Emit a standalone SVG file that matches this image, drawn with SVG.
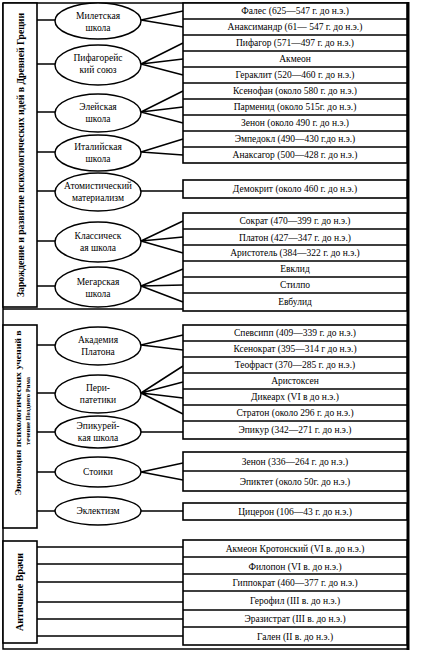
<svg xmlns="http://www.w3.org/2000/svg" width="431" height="652" viewBox="0 0 431 652">
<style>
.ln{stroke:#000;stroke-width:1.5;fill:none}
.bx{stroke:#000;stroke-width:1.6;fill:#fff}
.el{stroke:#000;stroke-width:1.5;fill:#fff}
.t{font-family:"Liberation Serif","DejaVu Serif",serif;font-size:9.5px;fill:#000;text-anchor:middle}
.lab{font-family:"Liberation Serif","DejaVu Serif",serif;font-weight:bold;fill:#000;text-anchor:middle}
</style>
<rect width="431" height="652" fill="#fff"/>
<g id="frame">
<path class="ln" d="M3,3 H408 M3,3 V649 H408 M3,309 H183"/>
<path d="M408,2 V650" stroke="#000" stroke-width="3"/>
</g>
<g id="label1"><rect class="bx" x="3" y="3" width="34" height="304"/><text class="lab" font-size="10" transform="translate(24,155) rotate(-90)" textLength="284" lengthAdjust="spacingAndGlyphs">Зарождение и развитие психологических идей в Древней Греции</text></g>
<g id="label2"><rect class="bx" x="3" y="325" width="34" height="203"/><text class="lab" font-size="8.5" transform="translate(21,413) rotate(-90)" textLength="165" lengthAdjust="spacingAndGlyphs">Эволюция психологических учений в</text><text class="lab" font-size="6.5" transform="translate(30,411) rotate(-90)" textLength="68" lengthAdjust="spacingAndGlyphs">течение Позднего Рима</text></g>
<g id="label3"><rect class="bx" x="3" y="541" width="34" height="102"/><text class="lab" font-size="10" transform="translate(23,592) rotate(-90)">Античные Врачи</text></g>
<g id="connectors">
<path class="ln" d="M37,20 H55 M37,64 H55 M37,112 H55 M37,152 H55 M37,191 H55 M37,241 H55 M37,286 H55"/>
<path class="ln" d="M141,20 L183,11 M141,20 L183,27 M141,64 L183,43 M141,64 L183,59 M141,64 L183,75 M141,112 L183,91 M141,112 L183,107 M141,112 L183,123 M141,152 L183,139 M141,152 L183,155 M141,191 H183 M141,241 L183,221 M141,241 L183,237 M141,241 L183,253 M141,286 L183,269 M141,286 L183,285 M141,286 L183,302"/>
<path class="ln" d="M37,345 H55 M37,393 H55 M37,432 H55 M37,472 H55 M37,511 H55"/>
<path class="ln" d="M141,345 L183,335 M141,345 L183,350 M141,393 L183,366 M141,393 L183,382 M141,393 L183,398 M141,393 L183,414 M141,432 H183 M141,472 L183,463 M141,472 L183,480 M141,511 H183"/>
<path class="ln" d="M37,547 H185 M37,564 H185 M37,582 H185 M37,602 H185 M37,619 H185 M37,636 H185"/>
</g>
<g id="e-miletus"><ellipse class="el" cx="98" cy="21" rx="43" ry="18"/><text class="t" x="98" y="19">Милетская</text><text class="t" x="98" y="31">школа</text></g>
<g id="e-pyth"><ellipse class="el" cx="98" cy="65" rx="43" ry="20"/><text class="t" x="98" y="61">Пифагорейс</text><text class="t" x="98" y="73">кий союз</text></g>
<g id="e-eleat"><ellipse class="el" cx="98" cy="113" rx="43" ry="19"/><text class="t" x="98" y="110">Элейская</text><text class="t" x="98" y="122">школа</text></g>
<g id="e-ital"><ellipse class="el" cx="98" cy="153" rx="43" ry="18"/><text class="t" x="98" y="150">Италийская</text><text class="t" x="98" y="162">школа</text></g>
<g id="e-atom"><ellipse class="el" cx="98" cy="192" rx="43" ry="19"/><text class="t" x="98" y="189">Атомистический</text><text class="t" x="98" y="201">материализм</text></g>
<g id="e-class"><ellipse class="el" cx="98" cy="242" rx="43" ry="20"/><text class="t" x="98" y="239">Классическ</text><text class="t" x="98" y="251">ая школа</text></g>
<g id="e-megar"><ellipse class="el" cx="98" cy="287" rx="43" ry="20"/><text class="t" x="98" y="285">Мегарская</text><text class="t" x="98" y="297">школа</text></g>
<g id="e-acad"><ellipse class="el" cx="98" cy="346" rx="43" ry="19"/><text class="t" x="98" y="343">Академия</text><text class="t" x="98" y="355">Платона</text></g>
<g id="e-perip"><ellipse class="el" cx="98" cy="394" rx="43" ry="19"/><text class="t" x="98" y="391">Пери-</text><text class="t" x="98" y="403">патетики</text></g>
<g id="e-epic"><ellipse class="el" cx="98" cy="432" rx="43" ry="16"/><text class="t" x="98" y="429">Эпикурей-</text><text class="t" x="98" y="441">кая школа</text></g>
<g id="e-stoic"><ellipse class="el" cx="98" cy="472" rx="43" ry="15"/><text class="t" x="98" y="475">Стоики</text></g>
<g id="e-eclect"><ellipse class="el" cx="98" cy="511" rx="43" ry="14"/><text class="t" x="98" y="514">Эклектизм</text></g>
<g id="boxes1">
<rect class="bx" x="183" y="3" width="224" height="160"/>
<path class="ln" d="M183,19 H407 M183,35 H407 M183,51 H407 M183,67 H407 M183,83 H407 M183,99 H407 M183,115 H407 M183,131 H407 M183,147 H407"/>
<text class="t" x="295" y="14">Фалес (625—547 г. до н.э.)</text>
<text class="t" x="295" y="30">Анаксимандр (61— 547 г. до н.э.)</text>
<text class="t" x="295" y="46">Пифагор (571—497 г. до н.э.)</text>
<text class="t" x="295" y="62">Акмеон</text>
<text class="t" x="295" y="78">Гераклит (520—460 г. до н.э.)</text>
<text class="t" x="295" y="94">Ксенофан (около 580 г. до н.э.)</text>
<text class="t" x="295" y="110">Парменид (около 515г. до н.э.)</text>
<text class="t" x="295" y="126">Зенон (около 490 г. до н.э.)</text>
<text class="t" x="295" y="142">Эмпедокл (490—430 г.до н.э.)</text>
<text class="t" x="295" y="158">Анаксагор (500—428 г. до н.э.)</text>
</g>
<g id="boxes2">
<rect class="bx" x="183" y="180" width="224" height="18"/>
<text class="t" x="295" y="192">Демокрит (около 460 г. до н.э.)</text>
</g>
<g id="boxes3">
<rect class="bx" x="183" y="213" width="224" height="98"/>
<path class="ln" d="M183,229 H407 M183,245 H407 M183,261 H407 M183,277 H407 M183,293 H407"/>
<text class="t" x="295" y="224">Сократ (470—399 г. до н.э.)</text>
<text class="t" x="295" y="241">Платон (427—347 г. до н.э.)</text>
<text class="t" x="295" y="256">Аристотель (384—322 г. до н.э.)</text>
<text class="t" x="295" y="272">Евклид</text>
<text class="t" x="295" y="288">Стилпо</text>
<text class="t" x="295" y="305">Евбулид</text>
</g>
<g id="boxes4">
<rect class="bx" x="183" y="325" width="224" height="114"/>
<path class="ln" d="M183,341 H407 M183,357 H407 M183,373 H407 M183,389 H407 M183,405 H407 M183,421 H407"/>
<text class="t" x="295" y="336">Спевсипп (409—339 г. до н.э.)</text>
<text class="t" x="295" y="352">Ксенократ (395—314 г до н.э.)</text>
<text class="t" x="295" y="368">Теофраст (370—285 г. до н.э.)</text>
<text class="t" x="295" y="384">Аристоксен</text>
<text class="t" x="295" y="400">Дикеарх  (VI в до н.э.)</text>
<text class="t" x="295" y="416">Стратон (около 296 г. до н.э.)</text>
<text class="t" x="295" y="433">Эпикур (342—271 г. до н.э.)</text>
</g>
<g id="boxes5">
<rect class="bx" x="183" y="452" width="224" height="39"/>
<path class="ln" d="M183,471 H407"/>
<text class="t" x="295" y="465">Зенон (336—264 г. до н.э.)</text>
<text class="t" x="295" y="485">Эпиктет (около 50г. до н.э.)</text>
</g>
<g id="boxes6">
<rect class="bx" x="183" y="503" width="224" height="17"/>
<text class="t" x="295" y="515">Цицерон (106—43 г. до н.э.)</text>
</g>
<g id="boxes7">
<rect class="bx" x="183" y="540" width="224" height="105"/>
<path class="ln" d="M183,557 H407 M183,574 H407 M183,591 H407 M183,610 H407 M183,627 H407"/>
<text class="t" x="295" y="552">Акмеон Кротонский (VI в. до н.э.)</text>
<text class="t" x="295" y="570">Филопон (VI в. до н.э.)</text>
<text class="t" x="295" y="586">Гиппократ (460—377 г. до н.э.)</text>
<text class="t" x="295" y="604">Герофил (III в. до н.э.)</text>
<text class="t" x="295" y="622">Эразистрат (III в. до н.э.)</text>
<text class="t" x="295" y="640">Гален (II в. до н.э.)</text>
</g>
</svg>
